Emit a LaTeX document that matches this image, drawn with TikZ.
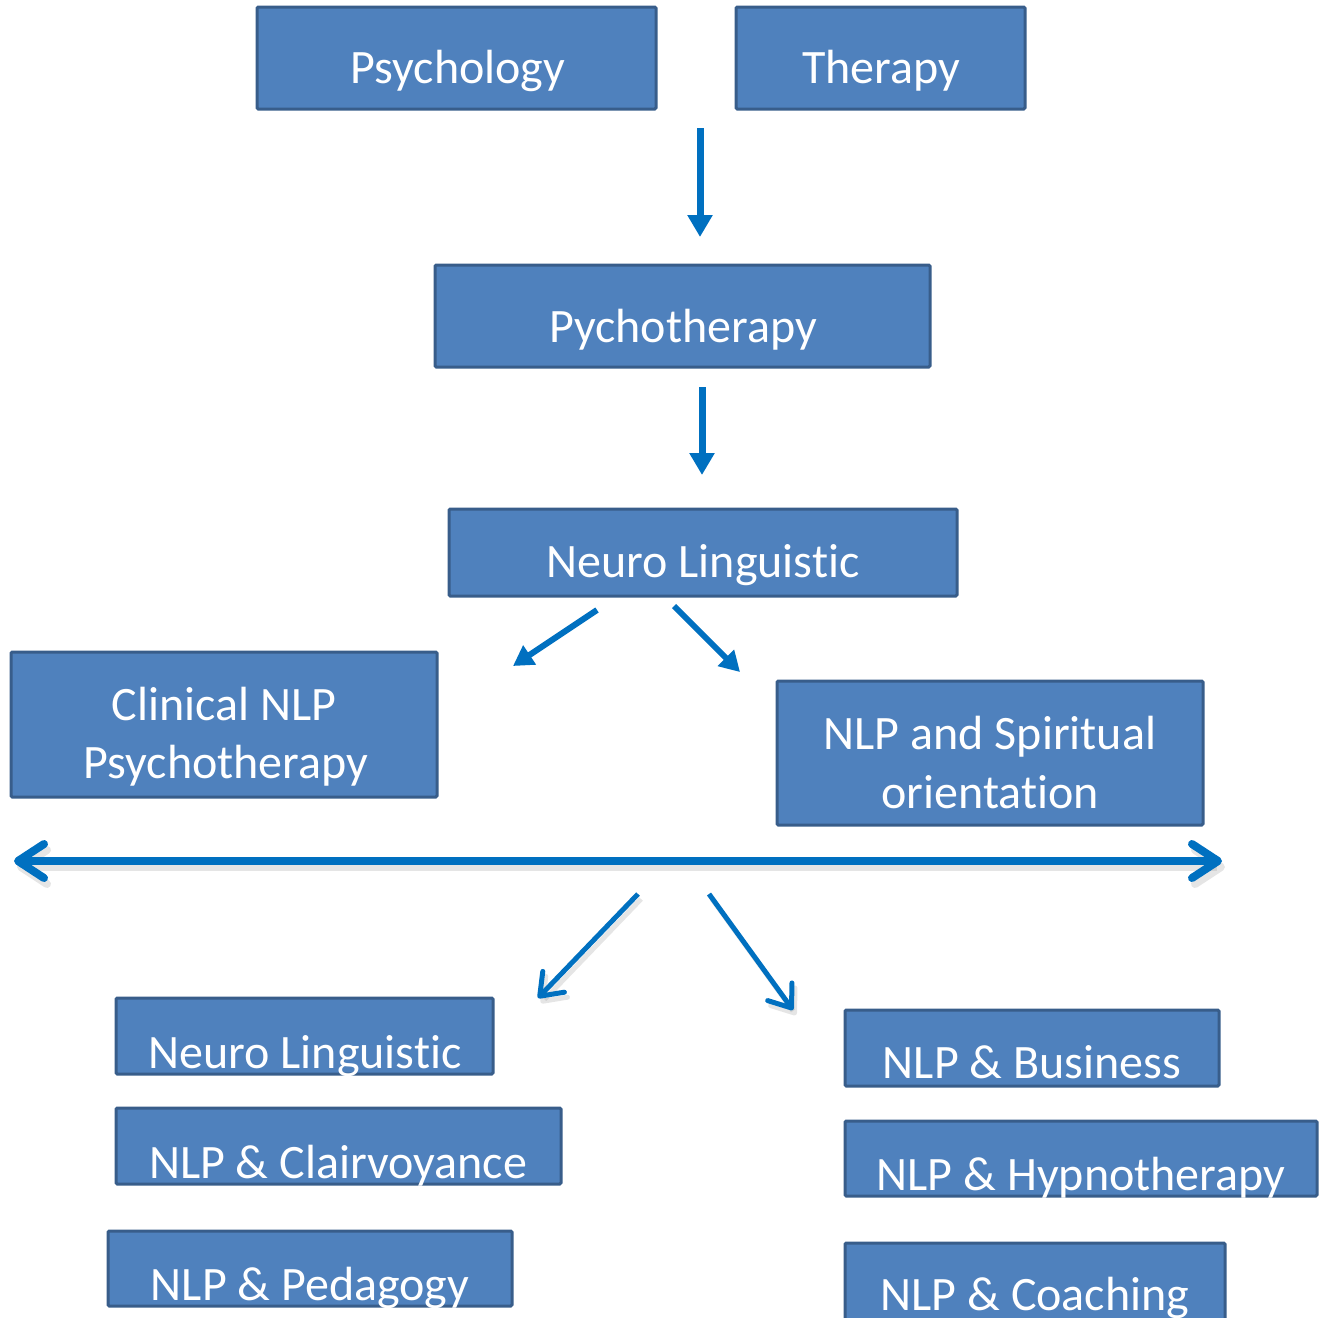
\documentclass[tikz,border=0pt]{standalone}
\usepackage{fontspec}
\setmainfont{Carlito}[Ligatures={NoCommon}]
\usetikzlibrary{arrows.meta,fit}
\definecolor{boxfill}{HTML}{4F81BD}
\definecolor{boxline}{HTML}{385D8A}
\definecolor{arr}{HTML}{0070C0}
\tikzset{
  box/.style={draw=boxline, fill=boxfill, line width=1.5pt, inner sep=0pt, rounded corners=0.6pt},
  txt/.style={text=white, font=\fontsize{24pt}{29pt}\selectfont, inner sep=0pt, anchor=base},
  downarr/.style={draw=arr, line width=3.5pt, -{Triangle[width=12pt,length=11pt]}},
  diagarr/.style={draw=arr, line width=3pt, -{Triangle[width=11pt,length=10pt]}},
  bigarr/.style={draw=arr, line width=4pt, {Straight Barb[length=13pt,width=17pt,round]}-{Straight Barb[length=13pt,width=17pt,round]}},
  thinarr/.style={draw=arr, line width=2.5pt, -{Straight Barb[length=10pt,width=15pt,round]}},
  shadowline/.style={draw=black!40, opacity=0.25}
}
\begin{document}
\begin{tikzpicture}[x=0.5pt,y=-0.5pt]
\clip (0,0) rectangle (1322,1317);
\useasboundingbox (0,0) rectangle (1322,1317);

% boxes
\node[box, fit={(257,7)(656,109)}] (psy) {};
\node[box, fit={(736,7)(1025,109)}] (ther) {};
\node[box, fit={(435,265)(930,367)}] (pt) {};
\node[box, fit={(449,509)(957,596)}] (nl) {};
\node[box, fit={(11,652)(437,797)}] (clin) {};
\node[box, fit={(777,681)(1203,825)}] (spir) {};
\node[box, fit={(116,998)(493,1074)}] (nl2) {};
\node[box, fit={(116,1108)(561,1184)}] (clair) {};
\node[box, fit={(108,1231)(512,1306)}] (ped) {};
\node[box, fit={(845,1010)(1219,1086)}] (bus) {};
\node[box, fit={(845,1121)(1317,1196)}] (hyp) {};
\node[box, fit={(845,1243)(1225,1340)}] (coach) {};

% texts
\node[txt] (tpsy) at (458,83) {Psychology};
\node[txt] (tther) at (881,83) {Therapy};
\node[txt] (tpt) at (683,342) {Pychotherapy};
\node[txt] (tnl) at (703,577) {Neuro Linguistic};
\node[txt] (tclin1) at (224,720) {Clinical NLP};
\node[txt] (tclin2) at (226,778) {Psychotherapy};
\node[txt] (tspir1) at (990,749) {NLP and Spiritual};
\node[txt] (tspir2) at (990,808) {orientation};
\node[txt] (tnl2) at (305,1068) {Neuro Linguistic};
\node[txt] (tclair) at (338,1178) {NLP \& Clairvoyance};
\node[txt] (tped) at (310,1300) {NLP \& Pedagogy};
\node[txt] (tbus) at (1032,1078) {NLP \& Business};
\node[txt] (thyp) at (1081,1190) {NLP \& Hypnotherapy};
\node[txt] (tcoach) at (1035,1310) {NLP \& Coaching};

% arrow end coordinates
\coordinate (a1s) at (700,128);
\coordinate (a1e) at (700,237);
\coordinate (a2s) at (702,387);
\coordinate (a2e) at (702,475);
\coordinate (a3s) at (597,610);
\coordinate (a3e) at (513,666);
\coordinate (a4s) at (674,606);
\coordinate (a4e) at (740,672);
\coordinate (hl) at (14,861);
\coordinate (hr) at (1222,861);
\coordinate (a5s) at (638,894);
\coordinate (a5e) at (538,998);
\coordinate (a6s) at (709,894);
\coordinate (a6e) at (793,1010);

% shadows
\path[bigarr, shadowline] ([shift={(3,6)}]hl) -- ([shift={(3,6)}]hr);
\path[thinarr, shadowline] ([shift={(3,5)}]a5s) -- ([shift={(3,5)}]a5e);
\path[thinarr, shadowline] ([shift={(3,5)}]a6s) -- ([shift={(3,5)}]a6e);

% arrows
\draw[downarr] (a1s) -- (a1e);
\draw[downarr] (a2s) -- (a2e);
\draw[diagarr] (a3s) -- (a3e);
\draw[diagarr] (a4s) -- (a4e);
\draw[bigarr] (hl) -- (hr);
\draw[thinarr] (a5s) -- (a5e);
\draw[thinarr] (a6s) -- (a6e);
\end{tikzpicture}
\end{document}
